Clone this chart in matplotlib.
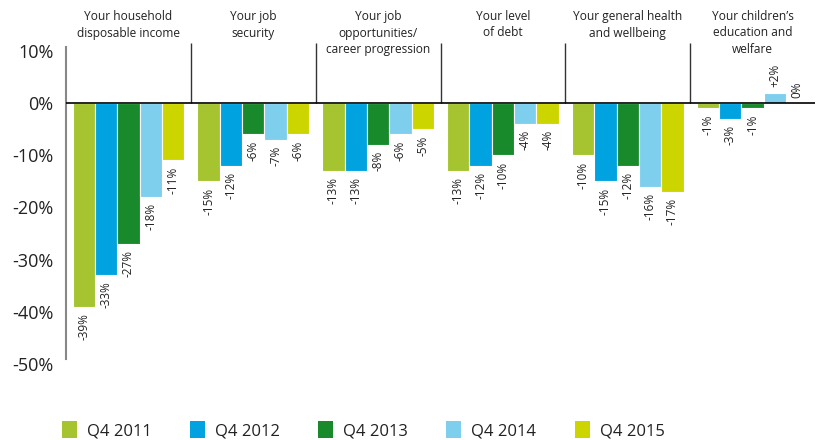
import numpy as np
import matplotlib
matplotlib.use("Agg")
import matplotlib.pyplot as plt
from matplotlib.patches import Patch

plt.rcParams['font.family'] = ['Open Sans', 'DejaVu Sans']

CATEGORIES = [
    "Your household\ndisposable income",
    "Your job\nsecurity",
    "Your job\nopportunities/\ncareer progression",
    "Your level\nof debt",
    "Your general health\nand wellbeing",
    "Your children\u2019s\neducation and\nwelfare",
]
SERIES = ["Q4 2011", "Q4 2012", "Q4 2013", "Q4 2014", "Q4 2015"]
COLORS = ["#A5C42F", "#00A3E0", "#188A2C", "#7ECFEE", "#CDD500"]

Q4_2011 = [-39, -15, -13, -13, -10, -1]
Q4_2012 = [-33, -12, -13, -12, -15, -3]
Q4_2013 = [-27, -6, -8, -10, -12, -1]
Q4_2014 = [-18, -7, -6, -4, -16, 2]
Q4_2015 = [-11, -6, -5, -4, -17, 0]
VALUES = [Q4_2011, Q4_2012, Q4_2013, Q4_2014, Q4_2015]

YTICKS = [10, 0, -10, -20, -30, -40, -50]

TEXTCOL = "#222222"


def fmt(v):
    if v > 0:
        return f'+{v}%'
    return f'{v}%'


def main():
    fig = plt.figure(figsize=(8.18, 4.4), dpi=100)
    # axes placed in pixel terms: x 66..815, y 0% at 103px, 5.22px per %
    x0, x1 = 66 / 818, 815 / 818
    ytop, ybot = 11, -50
    ppp = 5.22
    top_px = 103 - ytop * ppp
    bot_px = 103 - ybot * ppp
    ax = fig.add_axes([x0, (440 - bot_px) / 440, x1 - x0, (bot_px - top_px) / 440])

    n = len(CATEGORIES)
    x = np.arange(n)
    w = 0.179
    offs = (np.arange(len(SERIES)) - 2) * w

    for i, (vals, col) in enumerate(zip(VALUES, COLORS)):
        ax.bar(x + offs[i], vals, width=w, color=col, edgecolor="white",
               linewidth=0.8, label=SERIES[i], zorder=2)
        for xi, v in zip(x + offs[i], vals):
            if v < 0:
                ax.text(xi, v - 1.2, fmt(v), rotation=90, ha='center', va='top',
                        fontsize=8.5, color=TEXTCOL)
            else:
                ax.text(xi, v + 1.0, fmt(v), rotation=90, ha='center', va='bottom',
                        fontsize=8.5, color=TEXTCOL)

    ax.set_xlim(-0.5, n - 0.5)
    ax.set_ylim(ybot, ytop)

    ax.axhline(0, color="black", linewidth=1.2, zorder=3)
    ax.vlines(x[1:] - 0.5, 0, 11.5, colors="#333333", linewidth=1.0, clip_on=False)

    for s in ["top", "right", "bottom"]:
        ax.spines[s].set_visible(False)
    ax.spines["left"].set_color("#888888")
    ax.spines["left"].set_linewidth(1.5)
    ax.spines["left"].set_bounds(-49, 10.8)

    ax.set_xticks([])
    ax.set_yticks(YTICKS)
    ax.set_yticklabels([f'{t}%' for t in YTICKS], fontsize=13, color=TEXTCOL)
    ax.tick_params(axis='y', length=0, pad=9)

    # headers sit at top of figure, centred on each group
    hdr = matplotlib.transforms.blended_transform_factory(ax.transData, fig.transFigure)
    for xi, cat in zip(x, CATEGORIES):
        ax.text(xi, 1 - 10 / 440, cat, transform=hdr, ha='center', va='top',
                fontsize=8.6, color=TEXTCOL, linespacing=1.35)

    handles = [Patch(facecolor=c, edgecolor='none') for c in COLORS]
    fig.legend(handles, SERIES, loc='center left', bbox_to_anchor=(47 / 818, 1 - 430 / 440),
               ncol=5, frameon=False, fontsize=12, handlelength=0.9, handleheight=1.2,
               handletextpad=0.6, columnspacing=2.3, labelcolor=TEXTCOL)

    plt.savefig("out.png", dpi=100)
    plt.close()


if __name__ == "__main__":
    main()
